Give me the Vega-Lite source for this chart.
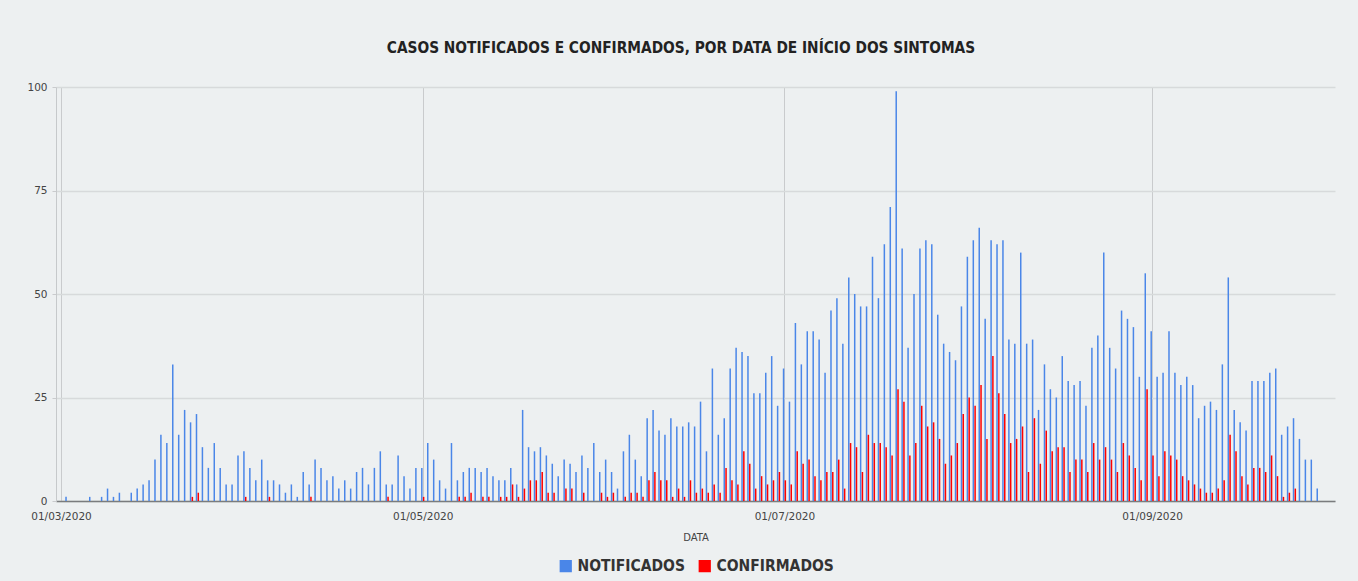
{
  "$schema": "https://vega.github.io/schema/vega-lite/v6.json",
  "autosize": {"type": "none"},
  "width": 1279,
  "height": 414,
  "padding": {"left": 56, "top": 87, "right": 23, "bottom": 80},
  "background": "#edf0f1",
  "config": {"view": {"stroke": null}, "font": "DejaVu Sans", "legend": {"layout": {"bottom": {"anchor": "middle"}}}},
  "title": {
    "text": "CASOS NOTIFICADOS E CONFIRMADOS, POR DATA DE INÍCIO DOS SINTOMAS",
    "font": "DejaVu Sans Condensed",
    "fontSize": 15.3,
    "fontWeight": "bold",
    "color": "#222222",
    "anchor": "middle",
    "frame": "bounds",
    "offset": 26
  },
  "data": {"values": [
    {"data":"2020-03-02","NOTIFICADOS":1,"CONFIRMADOS":0},
    {"data":"2020-03-03","NOTIFICADOS":0,"CONFIRMADOS":0},
    {"data":"2020-03-04","NOTIFICADOS":0,"CONFIRMADOS":0},
    {"data":"2020-03-05","NOTIFICADOS":0,"CONFIRMADOS":0},
    {"data":"2020-03-06","NOTIFICADOS":1,"CONFIRMADOS":0},
    {"data":"2020-03-07","NOTIFICADOS":0,"CONFIRMADOS":0},
    {"data":"2020-03-08","NOTIFICADOS":1,"CONFIRMADOS":0},
    {"data":"2020-03-09","NOTIFICADOS":3,"CONFIRMADOS":0},
    {"data":"2020-03-10","NOTIFICADOS":1,"CONFIRMADOS":0},
    {"data":"2020-03-11","NOTIFICADOS":2,"CONFIRMADOS":0},
    {"data":"2020-03-12","NOTIFICADOS":0,"CONFIRMADOS":0},
    {"data":"2020-03-13","NOTIFICADOS":2,"CONFIRMADOS":0},
    {"data":"2020-03-14","NOTIFICADOS":3,"CONFIRMADOS":0},
    {"data":"2020-03-15","NOTIFICADOS":4,"CONFIRMADOS":0},
    {"data":"2020-03-16","NOTIFICADOS":5,"CONFIRMADOS":0},
    {"data":"2020-03-17","NOTIFICADOS":10,"CONFIRMADOS":0},
    {"data":"2020-03-18","NOTIFICADOS":16,"CONFIRMADOS":0},
    {"data":"2020-03-19","NOTIFICADOS":14,"CONFIRMADOS":0},
    {"data":"2020-03-20","NOTIFICADOS":33,"CONFIRMADOS":0},
    {"data":"2020-03-21","NOTIFICADOS":16,"CONFIRMADOS":0},
    {"data":"2020-03-22","NOTIFICADOS":22,"CONFIRMADOS":0},
    {"data":"2020-03-23","NOTIFICADOS":19,"CONFIRMADOS":1},
    {"data":"2020-03-24","NOTIFICADOS":21,"CONFIRMADOS":2},
    {"data":"2020-03-25","NOTIFICADOS":13,"CONFIRMADOS":0},
    {"data":"2020-03-26","NOTIFICADOS":8,"CONFIRMADOS":0},
    {"data":"2020-03-27","NOTIFICADOS":14,"CONFIRMADOS":0},
    {"data":"2020-03-28","NOTIFICADOS":8,"CONFIRMADOS":0},
    {"data":"2020-03-29","NOTIFICADOS":4,"CONFIRMADOS":0},
    {"data":"2020-03-30","NOTIFICADOS":4,"CONFIRMADOS":0},
    {"data":"2020-03-31","NOTIFICADOS":11,"CONFIRMADOS":0},
    {"data":"2020-04-01","NOTIFICADOS":12,"CONFIRMADOS":1},
    {"data":"2020-04-02","NOTIFICADOS":8,"CONFIRMADOS":0},
    {"data":"2020-04-03","NOTIFICADOS":5,"CONFIRMADOS":0},
    {"data":"2020-04-04","NOTIFICADOS":10,"CONFIRMADOS":0},
    {"data":"2020-04-05","NOTIFICADOS":5,"CONFIRMADOS":1},
    {"data":"2020-04-06","NOTIFICADOS":5,"CONFIRMADOS":0},
    {"data":"2020-04-07","NOTIFICADOS":4,"CONFIRMADOS":0},
    {"data":"2020-04-08","NOTIFICADOS":2,"CONFIRMADOS":0},
    {"data":"2020-04-09","NOTIFICADOS":4,"CONFIRMADOS":0},
    {"data":"2020-04-10","NOTIFICADOS":1,"CONFIRMADOS":0},
    {"data":"2020-04-11","NOTIFICADOS":7,"CONFIRMADOS":0},
    {"data":"2020-04-12","NOTIFICADOS":4,"CONFIRMADOS":1},
    {"data":"2020-04-13","NOTIFICADOS":10,"CONFIRMADOS":0},
    {"data":"2020-04-14","NOTIFICADOS":8,"CONFIRMADOS":0},
    {"data":"2020-04-15","NOTIFICADOS":5,"CONFIRMADOS":0},
    {"data":"2020-04-16","NOTIFICADOS":6,"CONFIRMADOS":0},
    {"data":"2020-04-17","NOTIFICADOS":3,"CONFIRMADOS":0},
    {"data":"2020-04-18","NOTIFICADOS":5,"CONFIRMADOS":0},
    {"data":"2020-04-19","NOTIFICADOS":3,"CONFIRMADOS":0},
    {"data":"2020-04-20","NOTIFICADOS":7,"CONFIRMADOS":0},
    {"data":"2020-04-21","NOTIFICADOS":8,"CONFIRMADOS":0},
    {"data":"2020-04-22","NOTIFICADOS":4,"CONFIRMADOS":0},
    {"data":"2020-04-23","NOTIFICADOS":8,"CONFIRMADOS":0},
    {"data":"2020-04-24","NOTIFICADOS":12,"CONFIRMADOS":0},
    {"data":"2020-04-25","NOTIFICADOS":4,"CONFIRMADOS":1},
    {"data":"2020-04-26","NOTIFICADOS":4,"CONFIRMADOS":0},
    {"data":"2020-04-27","NOTIFICADOS":11,"CONFIRMADOS":0},
    {"data":"2020-04-28","NOTIFICADOS":6,"CONFIRMADOS":0},
    {"data":"2020-04-29","NOTIFICADOS":3,"CONFIRMADOS":0},
    {"data":"2020-04-30","NOTIFICADOS":8,"CONFIRMADOS":0},
    {"data":"2020-05-01","NOTIFICADOS":8,"CONFIRMADOS":1},
    {"data":"2020-05-02","NOTIFICADOS":14,"CONFIRMADOS":0},
    {"data":"2020-05-03","NOTIFICADOS":10,"CONFIRMADOS":0},
    {"data":"2020-05-04","NOTIFICADOS":5,"CONFIRMADOS":0},
    {"data":"2020-05-05","NOTIFICADOS":3,"CONFIRMADOS":0},
    {"data":"2020-05-06","NOTIFICADOS":14,"CONFIRMADOS":0},
    {"data":"2020-05-07","NOTIFICADOS":5,"CONFIRMADOS":1},
    {"data":"2020-05-08","NOTIFICADOS":7,"CONFIRMADOS":1},
    {"data":"2020-05-09","NOTIFICADOS":8,"CONFIRMADOS":2},
    {"data":"2020-05-10","NOTIFICADOS":8,"CONFIRMADOS":0},
    {"data":"2020-05-11","NOTIFICADOS":7,"CONFIRMADOS":1},
    {"data":"2020-05-12","NOTIFICADOS":8,"CONFIRMADOS":1},
    {"data":"2020-05-13","NOTIFICADOS":6,"CONFIRMADOS":0},
    {"data":"2020-05-14","NOTIFICADOS":5,"CONFIRMADOS":1},
    {"data":"2020-05-15","NOTIFICADOS":5,"CONFIRMADOS":1},
    {"data":"2020-05-16","NOTIFICADOS":8,"CONFIRMADOS":4},
    {"data":"2020-05-17","NOTIFICADOS":4,"CONFIRMADOS":1},
    {"data":"2020-05-18","NOTIFICADOS":22,"CONFIRMADOS":3},
    {"data":"2020-05-19","NOTIFICADOS":13,"CONFIRMADOS":5},
    {"data":"2020-05-20","NOTIFICADOS":12,"CONFIRMADOS":5},
    {"data":"2020-05-21","NOTIFICADOS":13,"CONFIRMADOS":7},
    {"data":"2020-05-22","NOTIFICADOS":11,"CONFIRMADOS":2},
    {"data":"2020-05-23","NOTIFICADOS":9,"CONFIRMADOS":2},
    {"data":"2020-05-24","NOTIFICADOS":6,"CONFIRMADOS":0},
    {"data":"2020-05-25","NOTIFICADOS":10,"CONFIRMADOS":3},
    {"data":"2020-05-26","NOTIFICADOS":9,"CONFIRMADOS":3},
    {"data":"2020-05-27","NOTIFICADOS":7,"CONFIRMADOS":0},
    {"data":"2020-05-28","NOTIFICADOS":11,"CONFIRMADOS":2},
    {"data":"2020-05-29","NOTIFICADOS":8,"CONFIRMADOS":0},
    {"data":"2020-05-30","NOTIFICADOS":14,"CONFIRMADOS":0},
    {"data":"2020-05-31","NOTIFICADOS":7,"CONFIRMADOS":2},
    {"data":"2020-06-01","NOTIFICADOS":10,"CONFIRMADOS":1},
    {"data":"2020-06-02","NOTIFICADOS":7,"CONFIRMADOS":2},
    {"data":"2020-06-03","NOTIFICADOS":3,"CONFIRMADOS":0},
    {"data":"2020-06-04","NOTIFICADOS":12,"CONFIRMADOS":1},
    {"data":"2020-06-05","NOTIFICADOS":16,"CONFIRMADOS":2},
    {"data":"2020-06-06","NOTIFICADOS":10,"CONFIRMADOS":2},
    {"data":"2020-06-07","NOTIFICADOS":6,"CONFIRMADOS":1},
    {"data":"2020-06-08","NOTIFICADOS":20,"CONFIRMADOS":5},
    {"data":"2020-06-09","NOTIFICADOS":22,"CONFIRMADOS":7},
    {"data":"2020-06-10","NOTIFICADOS":17,"CONFIRMADOS":5},
    {"data":"2020-06-11","NOTIFICADOS":16,"CONFIRMADOS":5},
    {"data":"2020-06-12","NOTIFICADOS":20,"CONFIRMADOS":1},
    {"data":"2020-06-13","NOTIFICADOS":18,"CONFIRMADOS":3},
    {"data":"2020-06-14","NOTIFICADOS":18,"CONFIRMADOS":1},
    {"data":"2020-06-15","NOTIFICADOS":19,"CONFIRMADOS":5},
    {"data":"2020-06-16","NOTIFICADOS":18,"CONFIRMADOS":2},
    {"data":"2020-06-17","NOTIFICADOS":24,"CONFIRMADOS":3},
    {"data":"2020-06-18","NOTIFICADOS":12,"CONFIRMADOS":2},
    {"data":"2020-06-19","NOTIFICADOS":32,"CONFIRMADOS":4},
    {"data":"2020-06-20","NOTIFICADOS":16,"CONFIRMADOS":2},
    {"data":"2020-06-21","NOTIFICADOS":20,"CONFIRMADOS":8},
    {"data":"2020-06-22","NOTIFICADOS":32,"CONFIRMADOS":5},
    {"data":"2020-06-23","NOTIFICADOS":37,"CONFIRMADOS":4},
    {"data":"2020-06-24","NOTIFICADOS":36,"CONFIRMADOS":12},
    {"data":"2020-06-25","NOTIFICADOS":35,"CONFIRMADOS":9},
    {"data":"2020-06-26","NOTIFICADOS":26,"CONFIRMADOS":3},
    {"data":"2020-06-27","NOTIFICADOS":26,"CONFIRMADOS":6},
    {"data":"2020-06-28","NOTIFICADOS":31,"CONFIRMADOS":4},
    {"data":"2020-06-29","NOTIFICADOS":35,"CONFIRMADOS":5},
    {"data":"2020-06-30","NOTIFICADOS":23,"CONFIRMADOS":7},
    {"data":"2020-07-01","NOTIFICADOS":32,"CONFIRMADOS":5},
    {"data":"2020-07-02","NOTIFICADOS":24,"CONFIRMADOS":4},
    {"data":"2020-07-03","NOTIFICADOS":43,"CONFIRMADOS":12},
    {"data":"2020-07-04","NOTIFICADOS":33,"CONFIRMADOS":9},
    {"data":"2020-07-05","NOTIFICADOS":41,"CONFIRMADOS":10},
    {"data":"2020-07-06","NOTIFICADOS":41,"CONFIRMADOS":6},
    {"data":"2020-07-07","NOTIFICADOS":39,"CONFIRMADOS":5},
    {"data":"2020-07-08","NOTIFICADOS":31,"CONFIRMADOS":7},
    {"data":"2020-07-09","NOTIFICADOS":46,"CONFIRMADOS":7},
    {"data":"2020-07-10","NOTIFICADOS":49,"CONFIRMADOS":10},
    {"data":"2020-07-11","NOTIFICADOS":38,"CONFIRMADOS":3},
    {"data":"2020-07-12","NOTIFICADOS":54,"CONFIRMADOS":14},
    {"data":"2020-07-13","NOTIFICADOS":50,"CONFIRMADOS":13},
    {"data":"2020-07-14","NOTIFICADOS":47,"CONFIRMADOS":7},
    {"data":"2020-07-15","NOTIFICADOS":47,"CONFIRMADOS":16},
    {"data":"2020-07-16","NOTIFICADOS":59,"CONFIRMADOS":14},
    {"data":"2020-07-17","NOTIFICADOS":49,"CONFIRMADOS":14},
    {"data":"2020-07-18","NOTIFICADOS":62,"CONFIRMADOS":13},
    {"data":"2020-07-19","NOTIFICADOS":71,"CONFIRMADOS":11},
    {"data":"2020-07-20","NOTIFICADOS":99,"CONFIRMADOS":27},
    {"data":"2020-07-21","NOTIFICADOS":61,"CONFIRMADOS":24},
    {"data":"2020-07-22","NOTIFICADOS":37,"CONFIRMADOS":11},
    {"data":"2020-07-23","NOTIFICADOS":50,"CONFIRMADOS":14},
    {"data":"2020-07-24","NOTIFICADOS":61,"CONFIRMADOS":23},
    {"data":"2020-07-25","NOTIFICADOS":63,"CONFIRMADOS":18},
    {"data":"2020-07-26","NOTIFICADOS":62,"CONFIRMADOS":19},
    {"data":"2020-07-27","NOTIFICADOS":45,"CONFIRMADOS":15},
    {"data":"2020-07-28","NOTIFICADOS":38,"CONFIRMADOS":9},
    {"data":"2020-07-29","NOTIFICADOS":36,"CONFIRMADOS":11},
    {"data":"2020-07-30","NOTIFICADOS":34,"CONFIRMADOS":14},
    {"data":"2020-07-31","NOTIFICADOS":47,"CONFIRMADOS":21},
    {"data":"2020-08-01","NOTIFICADOS":59,"CONFIRMADOS":25},
    {"data":"2020-08-02","NOTIFICADOS":63,"CONFIRMADOS":23},
    {"data":"2020-08-03","NOTIFICADOS":66,"CONFIRMADOS":28},
    {"data":"2020-08-04","NOTIFICADOS":44,"CONFIRMADOS":15},
    {"data":"2020-08-05","NOTIFICADOS":63,"CONFIRMADOS":35},
    {"data":"2020-08-06","NOTIFICADOS":62,"CONFIRMADOS":26},
    {"data":"2020-08-07","NOTIFICADOS":63,"CONFIRMADOS":21},
    {"data":"2020-08-08","NOTIFICADOS":39,"CONFIRMADOS":14},
    {"data":"2020-08-09","NOTIFICADOS":38,"CONFIRMADOS":15},
    {"data":"2020-08-10","NOTIFICADOS":60,"CONFIRMADOS":18},
    {"data":"2020-08-11","NOTIFICADOS":38,"CONFIRMADOS":7},
    {"data":"2020-08-12","NOTIFICADOS":39,"CONFIRMADOS":20},
    {"data":"2020-08-13","NOTIFICADOS":22,"CONFIRMADOS":9},
    {"data":"2020-08-14","NOTIFICADOS":33,"CONFIRMADOS":17},
    {"data":"2020-08-15","NOTIFICADOS":27,"CONFIRMADOS":12},
    {"data":"2020-08-16","NOTIFICADOS":25,"CONFIRMADOS":13},
    {"data":"2020-08-17","NOTIFICADOS":35,"CONFIRMADOS":13},
    {"data":"2020-08-18","NOTIFICADOS":29,"CONFIRMADOS":7},
    {"data":"2020-08-19","NOTIFICADOS":28,"CONFIRMADOS":10},
    {"data":"2020-08-20","NOTIFICADOS":29,"CONFIRMADOS":10},
    {"data":"2020-08-21","NOTIFICADOS":23,"CONFIRMADOS":7},
    {"data":"2020-08-22","NOTIFICADOS":37,"CONFIRMADOS":14},
    {"data":"2020-08-23","NOTIFICADOS":40,"CONFIRMADOS":10},
    {"data":"2020-08-24","NOTIFICADOS":60,"CONFIRMADOS":13},
    {"data":"2020-08-25","NOTIFICADOS":37,"CONFIRMADOS":10},
    {"data":"2020-08-26","NOTIFICADOS":32,"CONFIRMADOS":7},
    {"data":"2020-08-27","NOTIFICADOS":46,"CONFIRMADOS":14},
    {"data":"2020-08-28","NOTIFICADOS":44,"CONFIRMADOS":11},
    {"data":"2020-08-29","NOTIFICADOS":42,"CONFIRMADOS":8},
    {"data":"2020-08-30","NOTIFICADOS":30,"CONFIRMADOS":5},
    {"data":"2020-08-31","NOTIFICADOS":55,"CONFIRMADOS":27},
    {"data":"2020-09-01","NOTIFICADOS":41,"CONFIRMADOS":11},
    {"data":"2020-09-02","NOTIFICADOS":30,"CONFIRMADOS":6},
    {"data":"2020-09-03","NOTIFICADOS":31,"CONFIRMADOS":12},
    {"data":"2020-09-04","NOTIFICADOS":41,"CONFIRMADOS":11},
    {"data":"2020-09-05","NOTIFICADOS":31,"CONFIRMADOS":10},
    {"data":"2020-09-06","NOTIFICADOS":28,"CONFIRMADOS":6},
    {"data":"2020-09-07","NOTIFICADOS":30,"CONFIRMADOS":5},
    {"data":"2020-09-08","NOTIFICADOS":28,"CONFIRMADOS":4},
    {"data":"2020-09-09","NOTIFICADOS":20,"CONFIRMADOS":3},
    {"data":"2020-09-10","NOTIFICADOS":23,"CONFIRMADOS":2},
    {"data":"2020-09-11","NOTIFICADOS":24,"CONFIRMADOS":2},
    {"data":"2020-09-12","NOTIFICADOS":22,"CONFIRMADOS":3},
    {"data":"2020-09-13","NOTIFICADOS":33,"CONFIRMADOS":5},
    {"data":"2020-09-14","NOTIFICADOS":54,"CONFIRMADOS":16},
    {"data":"2020-09-15","NOTIFICADOS":22,"CONFIRMADOS":12},
    {"data":"2020-09-16","NOTIFICADOS":19,"CONFIRMADOS":6},
    {"data":"2020-09-17","NOTIFICADOS":17,"CONFIRMADOS":4},
    {"data":"2020-09-18","NOTIFICADOS":29,"CONFIRMADOS":8},
    {"data":"2020-09-19","NOTIFICADOS":29,"CONFIRMADOS":8},
    {"data":"2020-09-20","NOTIFICADOS":29,"CONFIRMADOS":7},
    {"data":"2020-09-21","NOTIFICADOS":31,"CONFIRMADOS":11},
    {"data":"2020-09-22","NOTIFICADOS":32,"CONFIRMADOS":6},
    {"data":"2020-09-23","NOTIFICADOS":16,"CONFIRMADOS":1},
    {"data":"2020-09-24","NOTIFICADOS":18,"CONFIRMADOS":2},
    {"data":"2020-09-25","NOTIFICADOS":20,"CONFIRMADOS":3},
    {"data":"2020-09-26","NOTIFICADOS":15,"CONFIRMADOS":0},
    {"data":"2020-09-27","NOTIFICADOS":10,"CONFIRMADOS":0},
    {"data":"2020-09-28","NOTIFICADOS":10,"CONFIRMADOS":0},
    {"data":"2020-09-29","NOTIFICADOS":3,"CONFIRMADOS":0}
  ]},
  "transform": [{"fold": ["NOTIFICADOS", "CONFIRMADOS"], "as": ["serie", "casos"]}],
  "encoding": {
    "x": {
      "field": "data",
      "type": "temporal",
      "title": "DATA",
      "scale": {"type": "utc", "domain": [{"year": 2020, "month": 3, "date": 1, "utc": true}, {"year": 2020, "month": 10, "date": 1, "utc": true}]},
      "axis": {
        "values": [
          {"year": 2020, "month": 3, "date": 1, "utc": true},
          {"year": 2020, "month": 5, "date": 1, "utc": true},
          {"year": 2020, "month": 7, "date": 1, "utc": true},
          {"year": 2020, "month": 9, "date": 1, "utc": true}
        ],
        "format": "%d/%m/%Y",
        "grid": true,
        "gridColor": "#c9cbcd",
        "gridWidth": 1,
        "ticks": false,
        "domainColor": "#7a7c7e",
        "domainWidth": 1.5,
        "labelFont": "DejaVu Sans",
        "labelFontSize": 10.5,
        "labelColor": "#444444",
        "labelPadding": 10,
        "labelFlush": false,
        "titleFont": "DejaVu Sans",
        "titleFontSize": 10,
        "titleFontWeight": "normal",
        "titleColor": "#444444",
        "titlePadding": 11
      }
    },
    "y": {
      "field": "casos",
      "type": "quantitative",
      "title": null,
      "scale": {"domain": [0, 100]},
      "axis": {
        "values": [0, 25, 50, 75, 100],
        "grid": true,
        "gridColor": "#d7dadb",
        "gridWidth": 1.5,
        "tickColor": "#c9cbcd",
        "tickSize": 4,
        "domainColor": "#c6c9cb",
        "labelFont": "DejaVu Sans",
        "labelFontSize": 10.5,
        "labelColor": "#444444",
        "labelPadding": 5
      }
    },
    "color": {
      "field": "serie",
      "type": "nominal",
      "scale": {"domain": ["NOTIFICADOS", "CONFIRMADOS"], "range": ["#4a86e8", "#ff0000"]},
      "legend": {
        "title": null,
        "orient": "bottom",
        "direction": "horizontal",
        "symbolType": "square",
        "symbolSize": 150,
        "symbolStrokeWidth": 0,
        "labelFont": "DejaVu Sans Condensed",
        "labelFontSize": 15.5,
        "labelFontWeight": "bold",
        "labelColor": "#333333",
        "columnPadding": 12,
        "offset": 15
      }
    }
  },
  "layer": [
    {
      "transform": [{"filter": "datum.serie === 'NOTIFICADOS'"}],
      "mark": {"type": "bar", "width": 1.5, "xOffset": -0.9}
    },
    {
      "transform": [{"filter": "datum.serie === 'CONFIRMADOS'"}],
      "mark": {"type": "bar", "width": 1.5, "xOffset": 0.9}
    }
  ]
}
